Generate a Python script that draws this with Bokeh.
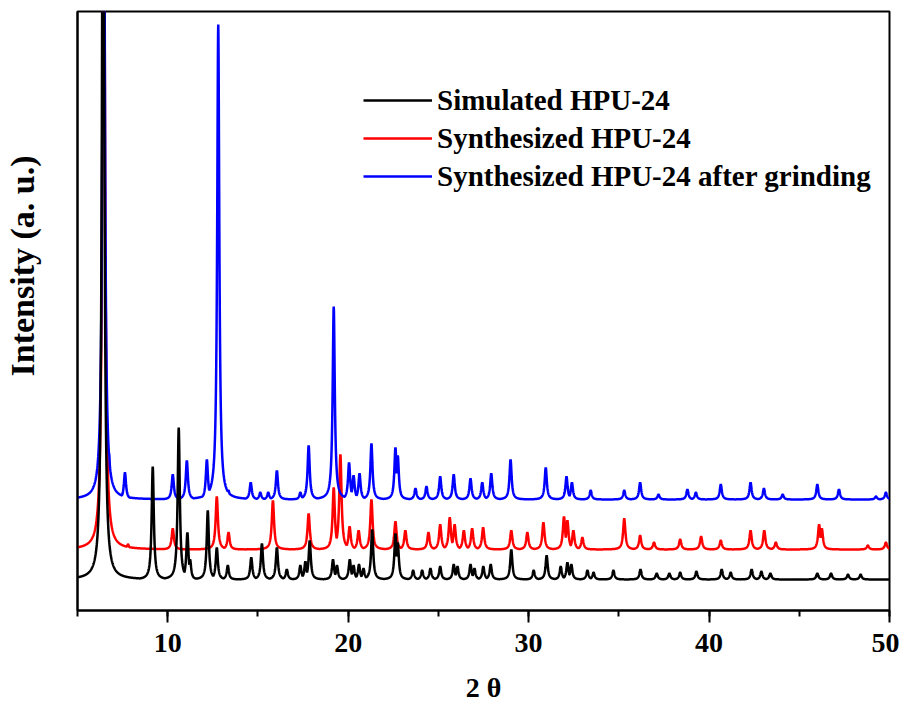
import numpy as np
from bokeh.plotting import figure
from bokeh.models import Range1d, SingleIntervalTicker, FixedTicker, Legend, LegendItem, Title
from bokeh.embed import file_html
from bokeh.resources import INLINE

# ---- data (2-theta position, apex intensity in a.u.) ----
sim_pos = [6.42, 9.17, 10.61, 11.09, 11.24, 12.22, 12.72, 13.33, 14.63, 15.22, 16.05, 16.6,
           17.35, 17.63, 17.87, 19.16, 19.38, 20.09, 20.3, 20.6, 20.85, 21.33, 22.62, 22.75,
           23.6, 24.1, 24.56, 25.1, 25.85, 26.06, 26.78, 27.0, 27.49, 27.9, 29.04, 30.28,
           31.0, 31.78, 32.15, 32.37, 33.26, 33.6, 34.7, 36.2, 37.1, 37.8, 38.4, 39.3, 40.7,
           41.2, 42.36, 42.9, 43.4, 46.0, 46.76, 47.7, 48.4]
sim_int = [950, 144, 183, 78, 51, 100, 63, 45, 53, 67, 63, 41,
           45, 49, 70, 51, 45, 51, 45, 46, 42, 81, 77, 68,
           40, 40, 42, 44, 46, 44, 46, 42, 44, 46, 61, 40,
           55, 44, 48, 46, 40, 38, 40, 41, 37, 37, 38, 39, 41,
           38, 41, 39, 37, 37, 37, 36, 36]
sim_base = 31

syn_pos = [6.45, 6.62, 7.8, 10.28, 12.72, 13.37, 15.83, 17.81, 19.2, 19.57, 20.08, 20.58,
           21.29, 22.62, 23.17, 24.45, 25.1, 25.63, 25.9, 26.41, 26.87, 27.48, 29.04, 29.93,
           30.82, 31.96, 32.15, 32.48, 32.98, 35.3, 36.18, 36.95, 38.4, 39.56, 40.65, 42.3,
           43.06, 43.7, 46.1, 46.25, 48.8, 49.8]
syn_int = [900, 126, 66, 82, 114, 78, 110, 97, 123, 156, 84, 80,
           111, 89, 80, 78, 86, 93, 86, 80, 82, 83, 80, 78,
           88, 94, 90, 80, 73, 92, 75, 68, 71, 74, 70, 80,
           80, 68, 86, 82, 65, 68]
syn_base = 61

grd_pos = [6.45, 6.75, 7.63, 10.28, 11.06, 12.17, 12.8, 13.37, 14.6, 15.13, 15.57, 16.05,
           17.35, 17.81, 19.2, 20.05, 20.3, 20.63, 21.29, 22.62, 22.75, 23.73, 24.34, 25.1,
           25.85, 26.78, 27.43, 27.93, 29.0, 30.95, 32.1, 32.4, 33.44, 35.3, 36.18, 37.2,
           38.8, 39.27, 40.65, 42.3, 43.04, 44.08, 46.0, 47.2, 49.25, 49.8]
grd_int = [950, 157, 138, 136, 150, 151, 586, 120, 128, 118, 118, 140,
           118, 165, 304, 148, 135, 137, 167, 163, 155, 122, 124, 134,
           136, 132, 128, 137, 151, 143, 134, 128, 120, 120, 128, 116,
           121, 118, 126, 128, 122, 116, 126, 121, 114, 118]
grd_base = 111

series_names = ["Simulated HPU-24", "Synthesized HPU-24", "Synthesized HPU-24 after grinding"]
series_colors = ["#000000", "#ff0000", "#0000ff"]


def pattern(pos, ints, base, hw):
    x = np.round(np.arange(5.0, 50.0001, 0.01), 3)
    y = np.zeros_like(x)
    for pk, h in zip(pos, ints):
        y = np.maximum(y, (h - base) / (1.0 + ((x - pk) / hw) ** 2))
    return x, base + y


p = figure(width=899, height=705, output_backend="svg", toolbar_location=None,
           x_range=Range1d(5, 50), y_range=Range1d(0, 599),
           min_border_left=77, min_border_right=10, min_border_top=11, min_border_bottom=95)
p.background_fill_color = "white"
p.border_fill_color = "white"
p.outline_line_color = "black"
p.outline_line_width = 2
p.xgrid.visible = False
p.ygrid.visible = False

FONT = "Liberation Serif"

xa = p.xaxis[0]
xa.ticker = SingleIntervalTicker(interval=10, num_minor_ticks=2)
xa.axis_line_color = "black"
xa.axis_line_width = 2
xa.major_tick_line_width = 2
xa.minor_tick_line_width = 2
xa.major_tick_out = 12
xa.major_tick_in = 0
xa.minor_tick_out = 6
xa.minor_tick_in = 0
xa.major_label_text_font = FONT
xa.major_label_text_font_style = "bold"
xa.major_label_text_font_size = "28px"
xa.major_label_text_color = "black"
xa.major_label_standoff = 11
xa.axis_label = "2 θ"
xa.axis_label_text_font = FONT
xa.axis_label_text_font_style = "bold"
xa.axis_label_text_font_size = "28px"
xa.axis_label_text_color = "black"
xa.axis_label_standoff = 17

ya = p.yaxis[0]
ya.ticker = FixedTicker(ticks=[])
ya.axis_line_color = "black"
ya.axis_line_width = 2

# blank spacer panel that pushes the y title away from the frame
spacer = Title(text=" ", text_font_size="1px", standoff=34, text_color="white")
p.add_layout(spacer, "left")

ytitle = Title(text="Intensity (a. u.)", align="left", offset=234,
               text_font=FONT, text_font_style="bold", text_font_size="34px",
               text_color="black", standoff=0)
p.add_layout(ytitle, "left")

xs, ys = pattern(syn_pos, syn_int, syn_base, 0.075)
r_red = p.line(xs, ys, line_color=series_colors[1], line_width=2.5)
xg, yg = pattern(grd_pos, grd_int, grd_base, 0.07)
r_blue = p.line(xg, yg, line_color=series_colors[2], line_width=2.5)
xb, yb = pattern(sim_pos, sim_int, sim_base, 0.07)
r_black = p.line(xb, yb, line_color=series_colors[0], line_width=2.5)

legend = Legend(items=[LegendItem(label=series_names[0], renderers=[r_black]),
                       LegendItem(label=series_names[1], renderers=[r_red]),
                       LegendItem(label=series_names[2], renderers=[r_blue])],
                location=(286, 417))
legend.border_line_color = None
legend.background_fill_alpha = 0
legend.padding = 0
legend.margin = 0
legend.spacing = 4
legend.glyph_width = 69
legend.glyph_height = 34
legend.label_height = 34
legend.label_standoff = 5
legend.label_text_font = FONT
legend.label_text_font_style = "bold"
legend.label_text_font_size = "29px"
legend.label_text_color = "black"
p.add_layout(legend)

open("out.html", "w").write(file_html(p, INLINE))
